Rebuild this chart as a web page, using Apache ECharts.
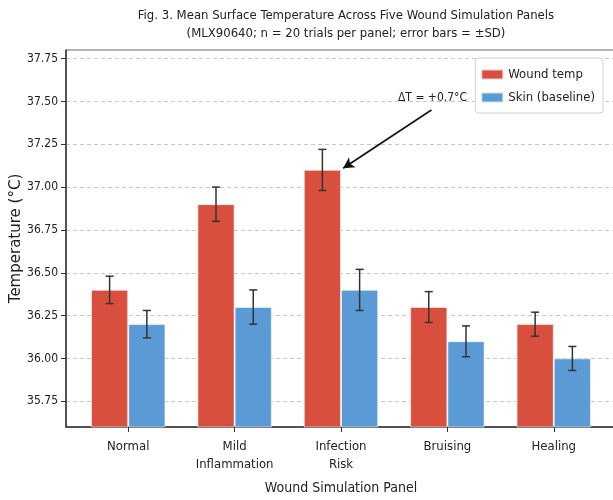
<!DOCTYPE html>
<html>
<head>
<meta charset="utf-8">
<script src="https://cdn.jsdelivr.net/npm/echarts@6/dist/echarts.min.js"></script>
<style>
  html, body { margin: 0; padding: 0; background: #fff; }
  #chart { width: 613px; height: 500px; }
</style>
</head>
<body>
<div id="chart"></div>
<script>
// Panel names and per-panel mean temperatures (°C) with standard deviations
const CATEGORIES = ['Normal', 'Mild\nInflammation', 'Infection\nRisk', 'Bruising', 'Healing'];
const WOUND_MEAN = [36.4, 36.9, 37.1, 36.3, 36.2];
const WOUND_SD   = [0.08, 0.10, 0.12, 0.09, 0.07];
const SKIN_MEAN  = [36.2, 36.3, 36.4, 36.1, 36.0];
const SKIN_SD    = [0.08, 0.10, 0.12, 0.09, 0.07];
const Y_TICKS    = [35.75, 36.00, 36.25, 36.50, 36.75, 37.00, 37.25, 37.50, 37.75];
const X_TICKS    = [0, 1, 2, 3, 4];

// Annotation for the largest wound-vs-skin difference
const DELTA_LABEL = 'ΔT = +0.7°C';
const ARROW_FROM  = [2.85, 37.45];
const ARROW_TO    = [2.02, 37.11];
const LABEL_AT    = [2.86, 37.52];

const RED = '#d94f3e';
const BLUE = '#5b9bd5';
const HALF = 0.175; // half of the group offset in category units
const NARROW = '"DejaVu Sans Condensed", "DejaVu Sans", sans-serif';

const woundData = WOUND_MEAN.map((v, i) => [i - HALF, v]);
const skinData = SKIN_MEAN.map((v, i) => [i + HALF, v]);
const errData = [];
WOUND_MEAN.forEach((v, i) => errData.push([i - HALF, v - WOUND_SD[i], v + WOUND_SD[i]]));
SKIN_MEAN.forEach((v, i) => errData.push([i + HALF, v - SKIN_SD[i], v + SKIN_SD[i]]));

const chart = echarts.init(document.getElementById('chart'), null, { renderer: 'canvas' });

chart.setOption({
  animation: false,
  backgroundColor: '#fff',
  title: {
    text: 'Fig. 3. Mean Surface Temperature Across Five Wound Simulation Panels\n(MLX90640; n = 20 trials per panel; error bars = ±SD)',
    left: 341,
    top: 2,
    textAlign: 'center',
    textStyle: { fontFamily: NARROW, fontSize: 13, fontWeight: 'normal', color: '#222', lineHeight: 18 }
  },
  legend: {
    orient: 'vertical',
    right: 10,
    top: 58,
    icon: 'rect',
    itemWidth: 22,
    itemHeight: 10,
    itemGap: 10,
    padding: [10, 8, 9, 5],
    borderColor: '#d0d0d0',
    borderWidth: 1,
    borderRadius: 3,
    backgroundColor: 'rgba(255,255,255,0.9)',
    textStyle: { fontFamily: NARROW, fontSize: 13, color: '#222' },
    data: ['Wound temp', 'Skin (baseline)']
  },
  grid: {
    left: 66, top: 50, width: 550, height: 377,
    outerBoundsMode: 'none',
    containLabel: false,
    show: true, borderColor: '#666', borderWidth: 1, backgroundColor: 'transparent'
  },
  xAxis: {
    type: 'value',
    min: -0.585,
    max: 4.585,
    name: 'Wound Simulation Panel',
    nameLocation: 'middle',
    nameGap: 54,
    nameMoveOverlap: false,
    nameTextStyle: { fontFamily: NARROW, fontSize: 14, color: '#222' },
    axisLine: { show: true, onZero: false, lineStyle: { color: '#333', width: 1.5 } },
    axisTick: { show: true, customValues: X_TICKS, length: 5, lineStyle: { color: '#333' } },
    axisLabel: {
      customValues: X_TICKS,
      formatter: v => CATEGORIES[Math.round(v)],
      fontFamily: NARROW, fontSize: 13, color: '#222', margin: 11, lineHeight: 18
    },
    splitLine: { show: false }
  },
  yAxis: {
    type: 'value',
    min: 35.6,
    max: 37.8,
    name: 'Temperature (°C)',
    nameLocation: 'middle',
    nameGap: 42,
    nameMoveOverlap: false,
    nameTextStyle: { fontFamily: '"DejaVu Sans", sans-serif', fontSize: 15, color: '#222' },
    axisLine: { show: true, onZero: false, lineStyle: { color: '#333', width: 1.5 } },
    axisTick: { show: true, customValues: Y_TICKS, length: 5, lineStyle: { color: '#333' } },
    axisLabel: {
      customValues: Y_TICKS,
      formatter: v => v.toFixed(2),
      fontFamily: NARROW, fontSize: 12, color: '#222', margin: 8
    },
    splitLine: { show: true, lineStyle: { color: '#c8c8c8', type: [4, 3], width: 1 } }
  },
  series: [
    {
      name: 'Wound temp',
      type: 'bar',
      data: woundData,
      barWidth: 37,
      barGap: '-100%',
      itemStyle: { color: RED, borderColor: 'rgba(255,255,255,0.7)', borderWidth: 0.8 },
      z: 2,
      markLine: {
        silent: true,
        symbol: ['none', 'arrow'],
        symbolSize: [9, 11],
        lineStyle: { color: '#111', width: 1.6, type: 'solid' },
        label: { show: false },
        data: [[{ coord: ARROW_FROM }, { coord: ARROW_TO }]]
      },
      markPoint: {
        silent: true,
        symbol: 'circle',
        symbolSize: 1,
        itemStyle: { color: 'rgba(0,0,0,0)' },
        label: { show: true, position: 'inside', formatter: DELTA_LABEL, fontFamily: NARROW, fontSize: 12, color: '#222' },
        data: [{ coord: LABEL_AT }]
      }
    },
    {
      name: 'Skin (baseline)',
      type: 'bar',
      data: skinData,
      barWidth: 37,
      barGap: '-100%',
      itemStyle: { color: BLUE, borderColor: 'rgba(255,255,255,0.7)', borderWidth: 0.8 },
      z: 2
    },
    {
      // ±SD error bars with caps
      name: 'err',
      type: 'custom',
      z: 5,
      silent: true,
      data: errData,
      renderItem: function (params, api) {
        const x = api.value(0);
        const lo = api.coord([x, api.value(1)]);
        const hi = api.coord([x, api.value(2)]);
        const cap = 4;
        const style = { stroke: '#333', lineWidth: 1.5 };
        return {
          type: 'group',
          children: [
            { type: 'line', shape: { x1: lo[0], y1: lo[1], x2: hi[0], y2: hi[1] }, style },
            { type: 'line', shape: { x1: hi[0] - cap, y1: hi[1], x2: hi[0] + cap, y2: hi[1] }, style },
            { type: 'line', shape: { x1: lo[0] - cap, y1: lo[1], x2: lo[0] + cap, y2: lo[1] }, style }
          ]
        };
      }
    }
  ]
});
</script>
</body>
</html>
